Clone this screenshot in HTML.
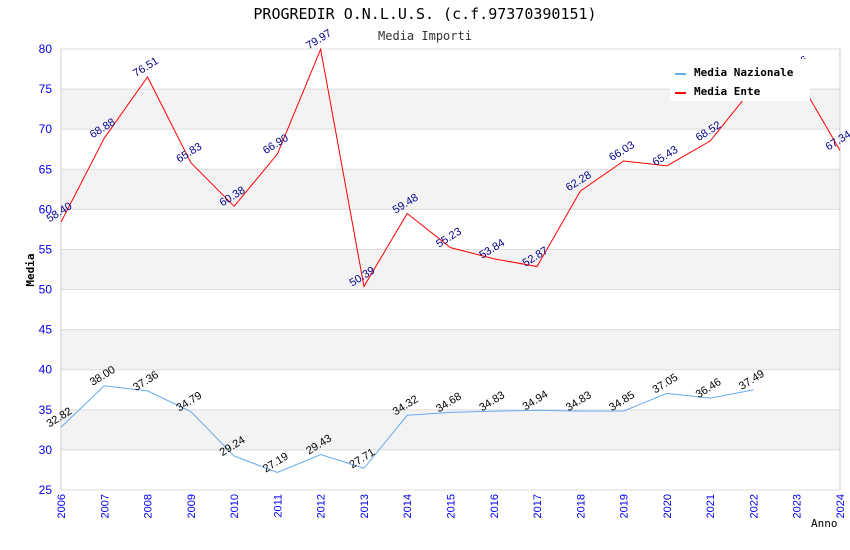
<!DOCTYPE html>
<html><head><meta charset="utf-8"><style>
body{margin:0;background:#fff}
svg{display:block;font-family:"DejaVu Sans Mono","Liberation Mono",monospace}
</style></head><body>
<svg width="850" height="550" viewBox="0 0 850 550">
<g id="bands"></g><g id="axes"></g><g id="series"></g><g id="legendg"></g>
</svg>
<script>
const years=[2006,2007,2008,2009,2010,2011,2012,2013,2014,2015,2016,2017,2018,2019,2020,2021,2022,2023,2024];
const enteValues=[58.40,68.88,76.51,65.83,60.38,66.90,79.97,50.39,59.48,55.23,53.84,52.87,62.28,66.03,65.43,68.52,75.26,76.66,67.34];
const nazValues=[32.82,38.00,37.36,34.79,29.24,27.19,29.43,27.71,34.32,34.68,34.83,34.94,34.83,34.85,37.05,36.46,37.49];
const yTicks=[25,30,35,40,45,50,55,60,65,70,75,80];
const NS='http://www.w3.org/2000/svg';
const X0=61,X1=840,Y0=490,Y1=49,YMIN=25,YMAX=80;
const xs=i=>X0+(X1-X0)*i/(years.length-1);
const ys=v=>Y0-(v-YMIN)/(YMAX-YMIN)*(Y0-Y1);
function mk(tag,attrs,parent,text){const e=document.createElementNS(NS,tag);for(const k in attrs)e.setAttribute(k,attrs[k]);if(text!=null)e.textContent=text;parent.appendChild(e);return e;}
const svg=document.querySelector('svg');
const bands=document.getElementById('bands'),axes=document.getElementById('axes'),series=document.getElementById('series'),lg=document.getElementById('legendg');
let t=mk('text',{x:425,y:19,'text-anchor':'middle','font-size':15,fill:'#000'},svg,'PROGREDIR O.N.L.U.S. (c.f.97370390151)');


t=mk('text',{x:425,y:40,'text-anchor':'middle','font-size':12,fill:'#333'},svg,'Media Importi');


for(let i=0;i<yTicks.length-1;i++){
  const a=yTicks[i],b=yTicks[i+1];
  if(i%2===1){const r=mk('rect',{x:X0,y:ys(b),width:X1-X0,height:ys(a)-ys(b),fill:'#f3f3f3'},bands);
    
    }
}
yTicks.forEach(v=>{
  const l=mk('line',{x1:X0,x2:X1,y1:ys(v),y2:ys(v),stroke:'#dcdcdc','stroke-width':1},axes);
  
  
  const tx=mk('text',{x:52,y:ys(v)+4,'text-anchor':'end','font-size':12,fill:'#0000ee','font-family':'Liberation Sans, sans-serif'},axes,String(v));
  
  
});
mk('line',{x1:X0,x2:X0,y1:Y1,y2:Y0,stroke:'#ccc'},axes);
mk('line',{x1:X1,x2:X1,y1:Y1,y2:Y0,stroke:'#ccc'},axes);
years.forEach((yr,i)=>{
  const x=xs(i);
  const tx=mk('text',{x:0,y:0,'text-anchor':'end','font-size':11,fill:'#0000ee','font-family':'Liberation Sans, sans-serif',transform:`translate(${x+4},${Y0+4}) rotate(-90)`},axes,String(yr));
  
  
});
t=mk('text',{x:0,y:0,'font-size':11,'font-weight':'bold',fill:'#000','text-anchor':'middle',transform:'translate(34,270) rotate(-90)'},axes,'Media');


t=mk('text',{x:811,y:527,'font-size':11,fill:'#000'},axes,'Anno');


function drawSeries(vals,color,labelColor,name){
  const pts=vals.map((v,i)=>xs(i)+','+ys(v)).join(' ');
  const p=mk('polyline',{points:pts,fill:'none',stroke:color,'stroke-width':1},series);
  
  
  vals.forEach((v,i)=>{
    const tx=mk('text',{x:0,y:0,'text-anchor':'middle','font-size':11,fill:labelColor,'font-family':'Liberation Sans, sans-serif',transform:`translate(${xs(i)},${ys(v)-7}) rotate(-32)`},series,v.toFixed(2));
    
    
  });
}
drawSeries(nazValues,'#66aaee','#000','nazionale');
drawSeries(enteValues,'#ff0000','#000088','ente');
const lb=mk('rect',{x:670,y:59,width:140,height:42,fill:'#fff'},lg);


[['Media Nazionale','#66aaee',73],['Media Ente','#ff0000',92]].forEach(([n,c,y])=>{
  const r=mk('rect',{x:675,y:y,width:11,height:2,fill:c},lg);
  
  
  const tx=mk('text',{x:694,y:y+3,'font-size':11,'font-weight':'bold',fill:'#000'},lg,n);
  
  
});
</script>
</body></html>
